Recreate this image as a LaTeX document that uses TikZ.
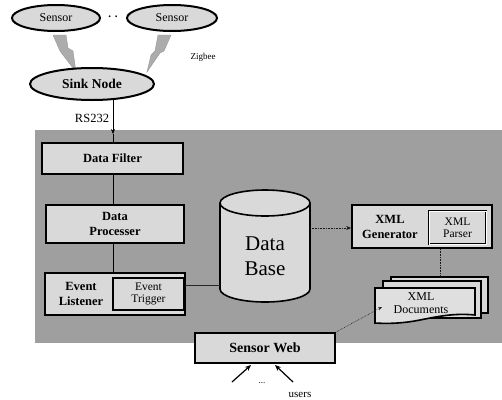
\documentclass[tikz,border=0pt]{standalone}
\usepackage{fontspec}
\setmainfont{Liberation Serif}
\usetikzlibrary{arrows.meta,shapes.geometric}
\tikzset{
  ell/.style={draw, line width=2pt, ellipse, fill=gray!30, inner sep=0pt},
  box/.style={draw, line width=1.8pt, fill=gray!30, inner sep=0pt, align=center},
  inbox/.style={draw, line width=1.4pt, fill=gray!30, inner sep=0pt, align=center, font=\fontsize{11.5}{12}\selectfont},
  bolt/.style={fill=gray!65, draw=gray!80, line width=0.4pt},
  thin/.style={line width=0.5pt},
  dotl/.style={line width=0.6pt, densely dotted, draw=gray!20!black},
  bfont/.style={font=\bfseries\fontsize{12.5}{15}\selectfont, align=center},
}
\begin{document}
\begin{tikzpicture}[x=1pt,y=-1pt]
\useasboundingbox (0,0) rectangle (502,399);
% background panel
\fill[gray!75] (35,130) rectangle (502,343);
% bolts
\filldraw[bolt] (53,35) -- (66,35) -- (68,48) -- (73,51) -- (76,72) -- (63,55) -- (60,51) -- cycle;
\filldraw[bolt] (158,35) -- (171,35) -- (164,51) -- (160,53) -- (147,72) -- (151,55) -- (155,51) -- cycle;
% sensors
\node[ell, minimum width=88pt, minimum height=26pt, font=\fontsize{12}{13}\selectfont] (s1) at (56,18) {Sensor};
\node[ell, minimum width=90pt, minimum height=26pt, font=\fontsize{12}{13}\selectfont] (s2) at (172,18) {Sensor};
\node[font=\bfseries\fontsize{11}{11}\selectfont] (dots) at (113,17) {. .};
\node[font=\fontsize{9}{10}\selectfont] (zig) at (203,57) {Zigbee};
% sink
\node[ell, minimum width=124pt, minimum height=32pt, font=\bfseries\fontsize{13.5}{14}\selectfont] (sink) at (92,84) {Sink Node};
\coordinate (rs) at (113,99);
\node[font=\fontsize{12.5}{13}\selectfont] (rslab) at (92,118) {RS232};
% left column
\node[box, minimum width=141pt, minimum height=31pt, bfont] (filter) at (112.5,158.5) {Data Filter};
\node[box, minimum width=138pt, minimum height=38pt, bfont] (proc) at (115,224) {Data\\Processer};
\node[box, minimum width=140pt, minimum height=42pt] (listen) at (115,294) {};
\node[bfont] (listentext) at (81,294) {Event\\Listener};
\node[inbox, minimum width=71pt, minimum height=32pt] (trig) at (148.5,294) {Event\\Trigger};
% database
\filldraw[fill=gray!30, line width=1.6pt] (220,203) -- (220,289) arc[start angle=180, end angle=0, x radius=45, y radius=13] -- (310,203);
\filldraw[fill=gray!30, line width=1.6pt] (265,203) ellipse (45 and 13);
\node[minimum width=90pt, minimum height=112pt, inner sep=0pt] (db) at (265,246) {};
\node[font=\fontsize{21}{25}\selectfont, align=center] (dbtext) at (265,256) {Data\\Base};
% XML generator
\node[box, minimum width=140pt, minimum height=43pt] (gen) at (422,226.5) {};
\node[bfont] (gentext) at (390,227) {XML\\Generator};
\node[inbox, double, double distance=1pt, line width=0.8pt, minimum width=57pt, minimum height=33pt] (parser) at (457.5,227.5) {XML\\Parser};
% XML documents
\filldraw[fill=gray!30, line width=1.4pt] (391,277) -- (488,277) -- (488,313) -- (391,313) -- cycle;
\filldraw[fill=gray!30, line width=1.4pt] (383,281) -- (481,281) -- (481,318) -- (383,318) -- cycle;
\filldraw[fill=gray!25, line width=1.6pt] (375,288) -- (475,288) -- (475,315) .. controls (455,313) and (440,316) .. (420,320) .. controls (405,323) and (390,324) .. (375,323) -- cycle;
\node[font=\fontsize{12}{13}\selectfont, align=center] (docs) at (421,303) {XML\\Documents};
\coordinate (docsin) at (382,307);
\coordinate (docstop) at (440,277);
% sensor web
\node[box, minimum width=140pt, minimum height=30pt, font=\bfseries\fontsize{14}{15}\selectfont] (web) at (265,348) {Sensor Web};
\coordinate (u1) at (232,382);
\coordinate (u2) at (293,382);
\coordinate (w1) at (251,365);
\coordinate (w2) at (275,365);
\node[font=\fontsize{9}{10}\selectfont] (udots) at (262,383) {...};
\node[font=\fontsize{11}{12}\selectfont] (users) at (300,395) {users};
% connectors
\draw[thin, -{Stealth[length=5pt,width=4pt]}] (rs) -- (113,134);
\draw[thin] (113,134) -- (113,143);
\draw[thin] (113,174) -- (113,205);
\draw[thin] (113,243) -- (113,273);
\draw[thin, gray!30!black] (trig.east |- 0,285) -- (220,285);
\draw[dotl, -{Stealth[length=5pt,width=4pt]}] (310,228) -- (gen.west |- 0,228);
\draw[dotl] (gen.south -| docstop) -- (docstop);
\draw[dotl, {Stealth[length=4pt,width=3pt]}-] (docsin) -- (web.north east);
\draw[line width=1.2pt, -{Stealth[length=6pt,width=5pt]}] (u1) -- (w1);
\draw[line width=1.2pt, -{Stealth[length=6pt,width=5pt]}] (u2) -- (w2);
\end{tikzpicture}
\end{document}
